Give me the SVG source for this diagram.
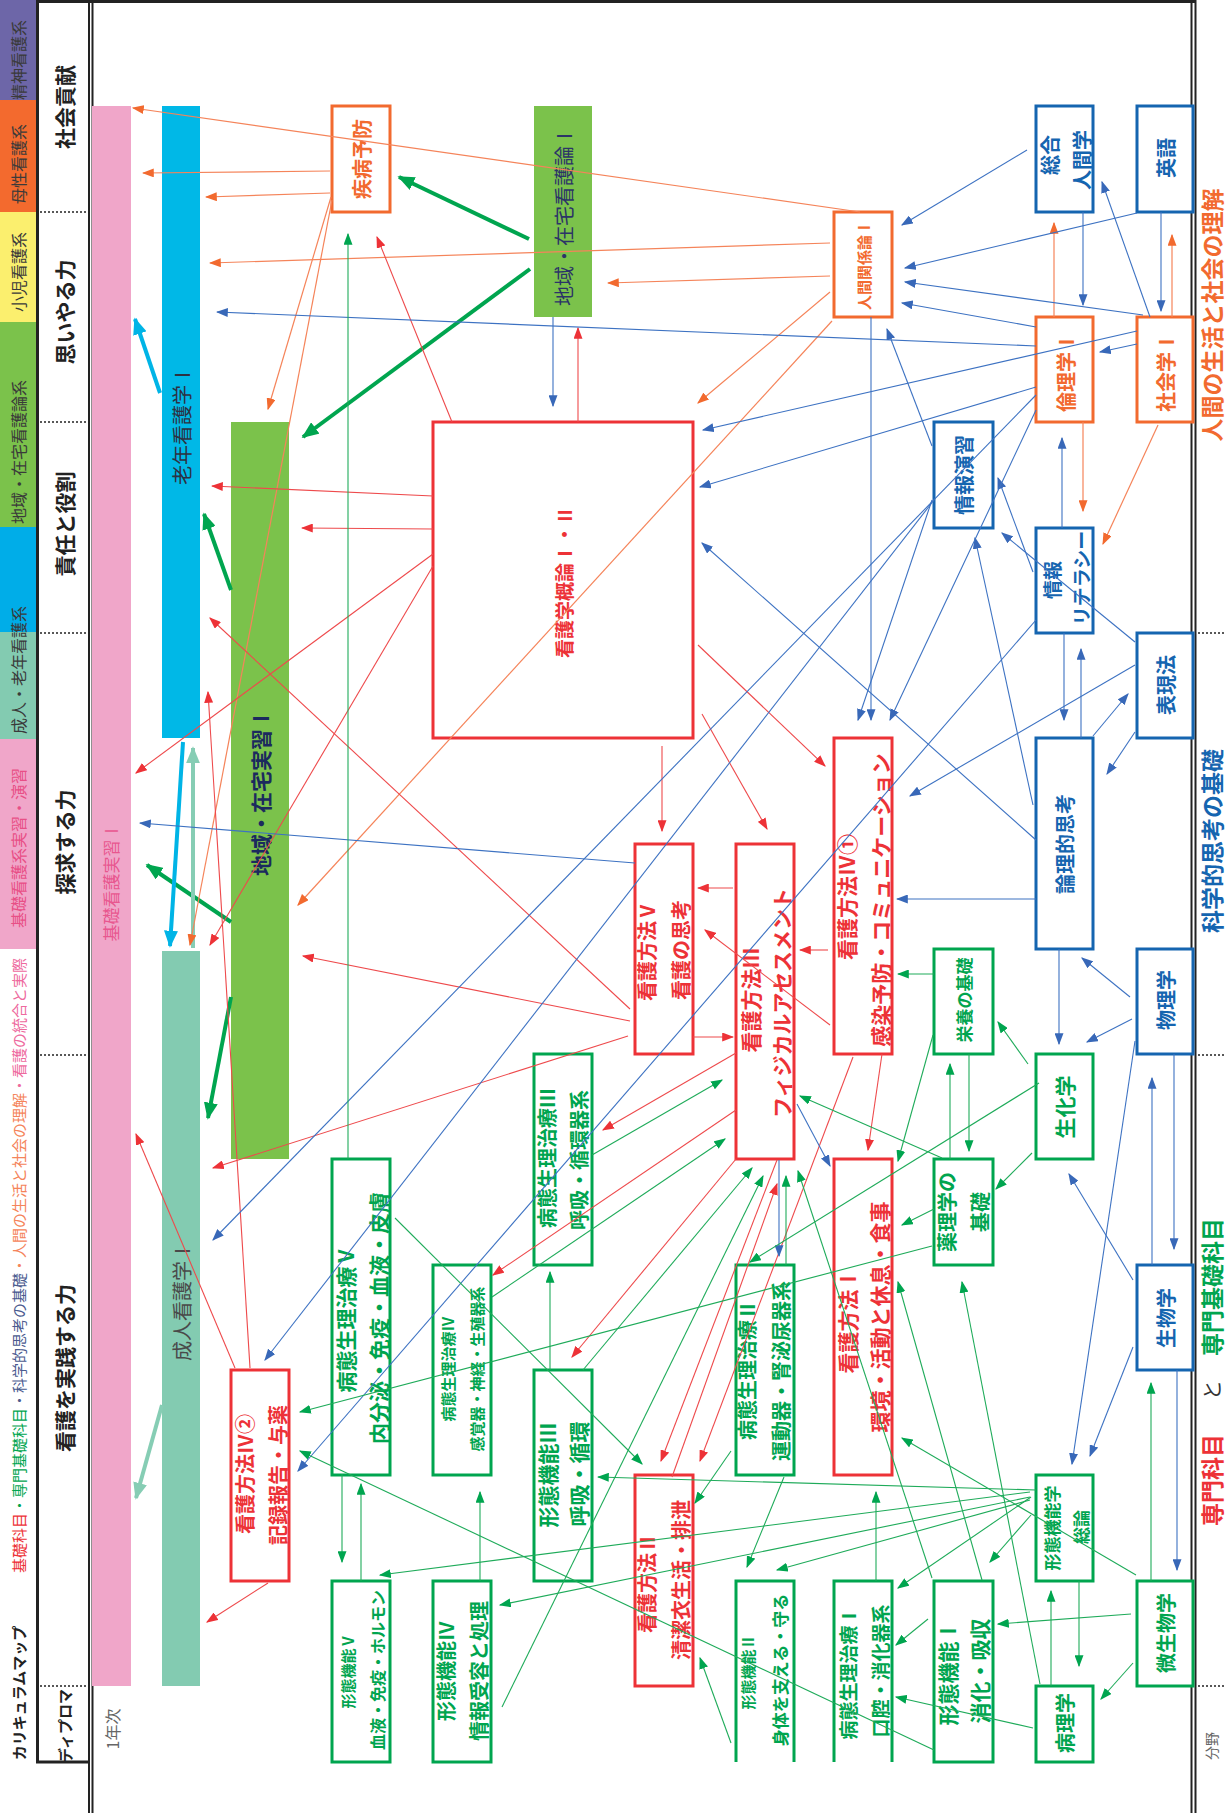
<svg xmlns="http://www.w3.org/2000/svg" width="1226" height="1813" viewBox="0 0 1226 1813">
<style>
text{font-family:"Noto Sans CJK JP","Noto Sans",sans-serif}
.v{text-anchor:middle;dominant-baseline:central}
.b{font-weight:bold}
.fr{fill:#ed3237}.fo{fill:#f26a2f}.fb{fill:#1565b0}.fg{fill:#00a54f}
.bx{fill:#fff;stroke-width:3}
.sr{stroke:#ed3237}.so{stroke:#f26a2f}.sb{stroke:#1565b0}.sg{stroke:#00a54f}
.op{fill:none;stroke-width:3}
.cr{stroke:#ee4a4c;stroke-width:1.1;fill:none;marker-end:url(#mr)}
.co{stroke:#f5845a;stroke-width:1.2;fill:none;marker-end:url(#mo)}
.cb{stroke:#3d72c2;stroke-width:1.1;fill:none;marker-end:url(#mb)}
.cg{stroke:#1fab5a;stroke-width:1.1;fill:none;marker-end:url(#mg)}
.tg{stroke:#00a54f;stroke-width:4;fill:none;marker-end:url(#Mg)}
.tc{stroke:#00b4e6;stroke-width:4;fill:none;marker-end:url(#Mc)}
.tt{stroke:#86cdb4;stroke-width:4;fill:none;marker-end:url(#Mt)}
.dot{stroke:#222;stroke-width:1.6;stroke-dasharray:2 2}
</style>
<defs>
<marker id="mr" viewBox="0 0 10 10" refX="9" refY="5" markerWidth="12" markerHeight="9" markerUnits="userSpaceOnUse" orient="auto" preserveAspectRatio="none"><path d="M0,0L10,5L0,10z" fill="#ed3237"/></marker>
<marker id="mo" viewBox="0 0 10 10" refX="9" refY="5" markerWidth="12" markerHeight="9" markerUnits="userSpaceOnUse" orient="auto" preserveAspectRatio="none"><path d="M0,0L10,5L0,10z" fill="#f26a2f"/></marker>
<marker id="mb" viewBox="0 0 10 10" refX="9" refY="5" markerWidth="12" markerHeight="9" markerUnits="userSpaceOnUse" orient="auto" preserveAspectRatio="none"><path d="M0,0L10,5L0,10z" fill="#3868b8"/></marker>
<marker id="mg" viewBox="0 0 10 10" refX="9" refY="5" markerWidth="12" markerHeight="9" markerUnits="userSpaceOnUse" orient="auto" preserveAspectRatio="none"><path d="M0,0L10,5L0,10z" fill="#00a54f"/></marker>
<marker id="Mg" viewBox="0 0 10 10" refX="9" refY="5" markerWidth="17" markerHeight="14" markerUnits="userSpaceOnUse" orient="auto" preserveAspectRatio="none"><path d="M0,0L10,5L0,10z" fill="#00a54f"/></marker>
<marker id="Mc" viewBox="0 0 10 10" refX="9" refY="5" markerWidth="17" markerHeight="14" markerUnits="userSpaceOnUse" orient="auto" preserveAspectRatio="none"><path d="M0,0L10,5L0,10z" fill="#00b4e6"/></marker>
<marker id="Mt" viewBox="0 0 10 10" refX="9" refY="5" markerWidth="17" markerHeight="14" markerUnits="userSpaceOnUse" orient="auto" preserveAspectRatio="none"><path d="M0,0L10,5L0,10z" fill="#86cdb4"/></marker>
</defs>
<rect width="1226" height="1813" fill="#fff"/>

<g id="legend-bands">
<rect x="0" y="0" width="37" height="100" fill="#6d66a8"/>
<rect x="0" y="100" width="37" height="112" fill="#f36a2e"/>
<rect x="0" y="212" width="37" height="110" fill="#fbef6e"/>
<rect x="0" y="322" width="37" height="205" fill="#7bc24b"/>
<rect x="0" y="527" width="37" height="105" fill="#00ade8"/>
<rect x="0" y="632" width="37" height="107" fill="#83cbb1"/>
<rect x="0" y="739" width="37" height="210" fill="#f0a6c9"/>
<g font-size="16" fill="#3a3a3a">
<text class="v" transform="translate(18,60) rotate(-90)">精神看護系</text>
<text class="v" transform="translate(18,164) rotate(-90)">母性看護系</text>
<text class="v" transform="translate(18,272) rotate(-90)">小児看護系</text>
<text class="v" transform="translate(18,452) rotate(-90)">地域・在宅看護論系</text>
<text class="v" transform="translate(18,670) rotate(-90)">成人・老年看護系</text>
<text class="v" transform="translate(18,848) rotate(-90)" fill="#e84f86">基礎看護系実習・演習</text>
</g>
<text transform="translate(18,1573) rotate(-90)" font-size="15" dominant-baseline="central"><tspan fill="#ed3237">基礎科目</tspan><tspan fill="#00a54f">・専門基礎科目</tspan><tspan fill="#4b5b8f">・科学的思考の基礎</tspan><tspan fill="#f5845a">・人間の生活と社会の理解</tspan><tspan fill="#ee6a9e">・看護の統合と実際</tspan></text>
<text class="v b" transform="translate(18,1693) rotate(-90)" font-size="15" fill="#222">カリキュラムマップ</text>
</g>

<g id="frame">
<rect x="36" y="0" width="1160" height="3" fill="#222"/>
<line x1="37.5" y1="0" x2="37.5" y2="1763" stroke="#222" stroke-width="3"/>
<line x1="36" y1="1762" x2="90" y2="1762" stroke="#222" stroke-width="3"/>
<line x1="89" y1="0" x2="89" y2="1813" stroke="#222" stroke-width="2"/>
<line x1="92.5" y1="0" x2="92.5" y2="1813" stroke="#222" stroke-width="2"/>
<line x1="1191.5" y1="0" x2="1191.5" y2="1813" stroke="#222" stroke-width="2"/>
<line x1="1195.5" y1="0" x2="1195.5" y2="1813" stroke="#222" stroke-width="2"/>
<line class="dot" x1="40" y1="212" x2="88" y2="212"/>
<line class="dot" x1="40" y1="422" x2="88" y2="422"/>
<line class="dot" x1="40" y1="633" x2="88" y2="633"/>
<line class="dot" x1="40" y1="1055" x2="88" y2="1055"/>
<line class="dot" x1="40" y1="1686" x2="88" y2="1686"/>
<line class="dot" x1="1198" y1="633" x2="1226" y2="633"/>
<line class="dot" x1="1198" y1="1055" x2="1226" y2="1055"/>
<line class="dot" x1="1198" y1="1686" x2="1226" y2="1686"/>
<g class="b" font-size="21" fill="#222">
<text class="v" transform="translate(64,107) rotate(-90)">社会貢献</text>
<text class="v" transform="translate(64,312) rotate(-90)">思いやる力</text>
<text class="v" transform="translate(64,524) rotate(-90)">責任と役割</text>
<text class="v" transform="translate(64,842) rotate(-90)">探求する力</text>
<text class="v" transform="translate(64,1368) rotate(-90)">看護を実践する力</text>
<text class="v" transform="translate(64,1726) rotate(-90)" font-size="15">ディプロマ</text>
</g>
<text class="v" transform="translate(112,1729) rotate(-90)" font-size="16" fill="#666">1年次</text>
<g class="b" font-size="23">
<text class="v fo" transform="translate(1211,315) rotate(-90)">人間の生活と社会の理解</text>
<text class="v fb" transform="translate(1211,841) rotate(-90)">科学的思考の基礎</text>
<text class="v fg" transform="translate(1211,1287) rotate(-90)">専門基礎科目</text>
<text class="v" transform="translate(1211,1390) rotate(-90)" fill="#333" font-weight="normal" font-size="20">と</text>
<text class="v fr" transform="translate(1211,1480) rotate(-90)">専門科目</text>
</g>
<text class="v" transform="translate(1211,1746) rotate(-90)" font-size="14" fill="#666">分野</text>
</g>

<g id="bar-kiso-jisshu">
<rect x="92" y="106" width="39" height="1580" fill="#f0a6c9"/>
<text class="v" transform="translate(110,882) rotate(-90)" font-size="17" fill="#e8578f">基礎看護実習Ⅰ</text>
</g>
<g id="bar-ronen">
<rect x="162" y="106" width="38" height="632" fill="#00b8e7"/>
<text class="v" transform="translate(181,425) rotate(-90)" font-size="20" fill="#2d3142">老年看護学Ⅰ</text>
</g>
<g id="bar-seijin">
<rect x="162" y="951" width="38" height="735" fill="#83cbb1"/>
<text class="v" transform="translate(181,1301) rotate(-90)" font-size="20" fill="#4a4a4a">成人看護学Ⅰ</text>
</g>
<g id="bar-chiiki-jisshu">
<rect x="231" y="422" width="58" height="737" fill="#7bc24b"/>
<text class="v b" transform="translate(260,792) rotate(-90)" font-size="21" fill="#1b2a5e">地域・在宅実習Ⅰ</text>
</g>

<g id="n-shippei"><rect class="bx so" x="332" y="106" width="58" height="106"/><text class="v fo b" font-size="20" transform="translate(361,159) rotate(-90)">疾病予防</text></g>
<g id="n-chiiki1"><rect x="534" y="106" width="58" height="211" fill="#7bc24b"/><text class="v" font-size="20" fill="#2b3467" transform="translate(563,216) rotate(-90)">地域・在宅看護論Ⅰ</text></g>
<g id="n-ningen"><rect class="bx so" x="834" y="212" width="58" height="105"/><text class="v fo b" font-size="15" transform="translate(863,265) rotate(-90)">人間関係論Ⅰ</text></g>
<g id="n-sogo"><rect class="bx sb" x="1036" y="106" width="57" height="106"/><g class="fb b" font-size="20"><text class="v" transform="translate(1049,155) rotate(-90)">総合</text><text class="v" transform="translate(1081,160) rotate(-90)">人間学</text></g></g>
<g id="n-eigo"><rect class="bx sb" x="1137" y="106" width="56" height="106"/><text class="v fb b" font-size="20" transform="translate(1165,158) rotate(-90)">英語</text></g>
<g id="n-rinri"><rect class="bx so" x="1036" y="317" width="57" height="105"/><text class="v fo b" font-size="20" transform="translate(1065,372) rotate(-90)">倫理学Ⅰ</text></g>
<g id="n-shakai"><rect class="bx so" x="1137" y="317" width="56" height="105"/><text class="v fo b" font-size="20" transform="translate(1165,372) rotate(-90)">社会学Ⅰ</text></g>
<g id="n-johoenshu"><rect class="bx sb" x="934" y="422" width="59" height="106"/><text class="v fb b" font-size="20" transform="translate(963,475) rotate(-90)">情報演習</text></g>
<g id="n-literacy"><rect class="bx sb" x="1036" y="528" width="57" height="105"/><g class="fb b" font-size="19"><text class="v" transform="translate(1051,580) rotate(-90)">情報</text><text class="v" transform="translate(1080,578) rotate(-90)">リテラシー</text></g></g>
<g id="n-hyogen"><rect class="bx sb" x="1137" y="633" width="56" height="105"/><text class="v fb b" font-size="20" transform="translate(1165,685) rotate(-90)">表現法</text></g>
<g id="n-ronri"><rect class="bx sb" x="1036" y="738" width="57" height="211"/><text class="v fb b" font-size="20" transform="translate(1064,844) rotate(-90)">論理的思考</text></g>
<g id="n-butsuri"><rect class="bx sb" x="1137" y="949" width="56" height="105"/><text class="v fb b" font-size="20" transform="translate(1165,1000) rotate(-90)">物理学</text></g>
<g id="n-eiyo"><rect class="bx sg" x="934" y="949" width="59" height="105"/><text class="v fg b" font-size="17" transform="translate(963,1000) rotate(-90)">栄養の基礎</text></g>
<g id="n-seika"><rect class="bx sg" x="1036" y="1054" width="57" height="105"/><text class="v fg b" font-size="21" transform="translate(1064,1107) rotate(-90)">生化学</text></g>
<g id="n-yakuri"><rect class="bx sg" x="934" y="1159" width="59" height="106"/><g class="fg b" font-size="20"><text class="v" transform="translate(946,1212) rotate(-90)">薬理学の</text><text class="v" transform="translate(979,1212) rotate(-90)">基礎</text></g></g>
<g id="n-seibutsu"><rect class="bx sb" x="1137" y="1265" width="56" height="105"/><text class="v fb b" font-size="20" transform="translate(1165,1318) rotate(-90)">生物学</text></g>
<g id="n-keitai-soron"><rect class="bx sg" x="1036" y="1475" width="57" height="106"/><g class="fg b" font-size="17"><text class="v" transform="translate(1051,1528) rotate(-90)">形態機能学</text><text class="v" transform="translate(1080,1527) rotate(-90)">総論</text></g></g>
<g id="n-biseibutsu"><rect class="bx sg" x="1137" y="1581" width="56" height="105"/><text class="v fg b" font-size="20" transform="translate(1165,1633) rotate(-90)">微生物学</text></g>
<g id="n-byori"><rect class="bx sg" x="1036" y="1686" width="57" height="76"/><text class="v fg b" font-size="20" transform="translate(1064,1723) rotate(-90)">病理学</text></g>
<g id="n-keitai1"><rect class="bx sg" x="934" y="1581" width="59" height="181"/><g class="fg b" font-size="21"><text class="v" transform="translate(947,1673) rotate(-90)">形態機能Ⅰ</text><text class="v" transform="translate(979,1671) rotate(-90)">消化・吸収</text></g></g>
<g id="n-byotai1"><path class="op sg" d="M834,1762V1581H892V1762"/><g class="fg b" font-size="19"><text class="v" transform="translate(847,1673) rotate(-90)">病態生理治療Ⅰ</text><text class="v" transform="translate(879,1671) rotate(-90)">口腔・消化器系</text></g></g>
<g id="n-keitai2"><path class="op sg" d="M736,1762V1581H794V1762"/><g class="fg b"><text class="v" font-size="15" transform="translate(747,1672) rotate(-90)">形態機能Ⅱ</text><text class="v" font-size="17" transform="translate(779,1670) rotate(-90)">身体を支える・守る</text></g></g>
<g id="n-hoho2"><rect class="bx sr" x="635" y="1475" width="58" height="211"/><g class="fr b" font-size="20"><text class="v" transform="translate(646,1583) rotate(-90)">看護方法Ⅱ</text><text class="v" transform="translate(680,1580) rotate(-90)">清潔衣生活・排泄</text></g></g>
<g id="n-keitai3"><rect class="bx sg" x="534" y="1370" width="58" height="211"/><g class="fg b" font-size="21"><text class="v" transform="translate(547,1475) rotate(-90)">形態機能Ⅲ</text><text class="v" transform="translate(578,1474) rotate(-90)">呼吸・循環</text></g></g>
<g id="n-keitai4"><rect class="bx sg" x="433" y="1581" width="58" height="181"/><g class="fg b" font-size="20"><text class="v" transform="translate(445,1671) rotate(-90)">形態機能Ⅳ</text><text class="v" transform="translate(478,1671) rotate(-90)">情報受容と処理</text></g></g>
<g id="n-keitai5"><rect class="bx sg" x="332" y="1581" width="58" height="181"/><g class="fg b"><text class="v" font-size="15" transform="translate(347,1671) rotate(-90)">形態機能Ⅴ</text><text class="v" font-size="16" transform="translate(377,1670) rotate(-90)">血液・免疫・ホルモン</text></g></g>
<g id="n-hoho4-2"><rect class="bx sr" x="231" y="1370" width="58" height="211"/><g class="fr b" font-size="20"><text class="v" transform="translate(244,1474) rotate(-90)">看護方法Ⅳ②</text><text class="v" transform="translate(277,1475) rotate(-90)">記録報告・与薬</text></g></g>
<g id="n-byotai5"><rect class="bx sg" x="332" y="1159" width="58" height="316"/><g class="fg b" font-size="21"><text class="v" transform="translate(345,1319) rotate(-90)">病態生理治療Ⅴ</text><text class="v" transform="translate(378,1318) rotate(-90)">内分泌・免疫・血液・皮膚</text></g></g>
<g id="n-byotai4"><rect class="bx sg" x="433" y="1265" width="58" height="210"/><g class="fg b" font-size="15"><text class="v" transform="translate(447,1369) rotate(-90)">病態生理治療Ⅳ</text><text class="v" transform="translate(476,1369) rotate(-90)">感覚器・神経・生殖器系</text></g></g>
<g id="n-byotai3"><rect class="bx sg" x="534" y="1054" width="58" height="211"/><g class="fg b" font-size="20"><text class="v" transform="translate(546,1158) rotate(-90)">病態生理治療Ⅲ</text><text class="v" transform="translate(578,1160) rotate(-90)">呼吸・循環器系</text></g></g>
<g id="n-byotai2"><rect class="bx sg" x="736" y="1265" width="58" height="210"/><g class="fg b" font-size="20"><text class="v" transform="translate(746,1370) rotate(-90)">病態生理治療Ⅱ</text><text class="v" transform="translate(780,1371) rotate(-90)">運動器・腎泌尿器系</text></g></g>
<g id="n-hoho1"><rect class="bx sr" x="834" y="1159" width="58" height="316"/><g class="fr b" font-size="21"><text class="v" transform="translate(847,1321) rotate(-90)">看護方法Ⅰ</text><text class="v" transform="translate(879,1317) rotate(-90)">環境・活動と休息・食事</text></g></g>
<g id="n-hoho3"><rect class="bx sr" x="736" y="844" width="58" height="315"/><g class="fr b" font-size="21"><text class="v" transform="translate(750,1000) rotate(-90)">看護方法Ⅲ</text><text class="v" transform="translate(781,1003) rotate(-90)">フィジカルアセスメント</text></g></g>
<g id="n-hoho4-1"><rect class="bx sr" x="834" y="738" width="58" height="316"/><g class="fr b" font-size="21"><text class="v" transform="translate(846,897) rotate(-90)">看護方法Ⅳ①</text><text class="v" transform="translate(880,900) rotate(-90)">感染予防・コミュニケーション</text></g></g>
<g id="n-hoho5"><rect class="bx sr" x="635" y="844" width="58" height="210"/><g class="fr b" font-size="20"><text class="v" transform="translate(646,951) rotate(-90)">看護方法Ⅴ</text><text class="v" transform="translate(680,950) rotate(-90)">看護の思考</text></g></g>
<g id="n-gairon"><rect class="bx sr" x="433" y="422" width="260" height="316"/><text class="v fr b" font-size="19" transform="translate(563,582) rotate(-90)">看護学概論Ⅰ・Ⅱ</text></g>

<g id="connectors">
<path class="tg" d="M529,239L399,177"/>
<path class="tg" d="M530,269L303,437"/>
<path class="tc" d="M160,393L135,319"/>
<path class="tg" d="M231,590L204,514"/>
<path class="tg" d="M231,922L147,865"/>
<path class="tg" d="M231,997L208,1118"/>
<path class="tc" d="M183,742L170,946"/>
<path class="tt" d="M193,948L193,748"/>
<path class="tt" d="M162,1405L136,1498"/>

<path class="co" d="M860,212L133,108"/>
<path class="co" d="M330,171L143,173"/>
<path class="co" d="M330,193L206,197"/>
<path class="co" d="M830,243L210,263"/>
<path class="co" d="M830,276L608,283"/>
<path class="co" d="M331,197L268,409"/>
<path class="co" d="M332,200L190,945"/>
<path class="co" d="M830,292L698,403"/>
<path class="co" d="M832,321L298,905"/>
<path class="co" d="M1054,317L1054,223"/>
<path class="co" d="M1172,317L1172,235"/>
<path class="co" d="M1083,422L1083,511"/>
<path class="co" d="M1158,425L1103,544"/>

<path class="cr" d="M452,422L377,237"/>
<path class="cr" d="M578,422L578,328"/>
<path class="cr" d="M433,496L212,486"/>
<path class="cr" d="M433,529L302,528"/>
<path class="cr" d="M433,554L136,773"/>
<path class="cr" d="M433,566L210,945"/>
<path class="cr" d="M662,746L662,831"/>
<path class="cr" d="M702,714L767,829"/>
<path class="cr" d="M698,645L825,766"/>
<path class="cr" d="M733,888L698,888"/>
<path class="cr" d="M828,950L800,950"/>
<path class="cr" d="M830,1025L705,930"/>
<path class="cr" d="M693,1037L733,1037"/>
<path class="cr" d="M630,1021L303,956"/>
<path class="cr" d="M630,1009L210,618"/>
<path class="cr" d="M628,1036L213,1168"/>
<path class="cr" d="M736,1053L603,1130"/>
<path class="cr" d="M736,1110L493,1275"/>
<path class="cr" d="M736,1159L572,1357"/>
<path class="cr" d="M777,1160L661,1461"/>
<path class="cr" d="M853,1057L700,1461"/>
<path class="cr" d="M672,1477L777,1184"/>
<path class="cr" d="M882,1054L868,1150"/>
<path class="cr" d="M250,1368L208,692"/>
<path class="cr" d="M235,1368L136,1134"/>
<path class="cr" d="M268,1583L207,1622"/>

<path class="cb" d="M553,317L553,406"/>
<path class="cb" d="M1036,346L217,312"/>
<path class="cb" d="M1137,331L703,430"/>
<path class="cb" d="M1036,387L700,487"/>
<path class="cb" d="M1036,840L702,543"/>
<path class="cb" d="M1027,150L902,225"/>
<path class="cb" d="M1137,213L905,268"/>
<path class="cb" d="M1143,315L905,282"/>
<path class="cb" d="M1036,327L902,303"/>
<path class="cb" d="M932,446L887,329"/>
<path class="cb" d="M1083,212L1083,305"/>
<path class="cb" d="M1150,317L1102,182"/>
<path class="cb" d="M1161,212L1161,311"/>
<path class="cb" d="M1137,344L1100,352"/>
<path class="cb" d="M1062,528L1062,438"/>
<path class="cb" d="M1033,572L998,478"/>
<path class="cb" d="M1135,642L1002,533"/>
<path class="cb" d="M1033,805L975,538"/>
<path class="cb" d="M871,317L871,720"/>
<path class="cb" d="M932,500L858,720"/>
<path class="cb" d="M1036,410L890,720"/>
<path class="cb" d="M1036,395L213,1240"/>
<path class="cb" d="M934,500L265,1360"/>
<path class="cb" d="M1036,620L298,1471"/>
<path class="cb" d="M1036,899L897,899"/>
<path class="cb" d="M1135,665L910,796"/>
<path class="cb" d="M635,863L140,823"/>
<path class="cb" d="M1064,633L1064,720"/>
<path class="cb" d="M1081,738L1081,649"/>
<path class="cb" d="M1093,736L1128,694"/>
<path class="cb" d="M1135,732L1107,774"/>
<path class="cb" d="M1130,997L1082,958"/>
<path class="cb" d="M1059,949L1059,1044"/>
<path class="cb" d="M1132,1019L1087,1042"/>
<path class="cb" d="M1174,1054L1174,1249"/>
<path class="cb" d="M1152,1265L1152,1078"/>
<path class="cb" d="M1133,1347L1090,1456"/>
<path class="cb" d="M1135,1041L1072,1464"/>
<path class="cb" d="M1133,1280L1069,1174"/>
<path class="cb" d="M1177,1370L1177,1570"/>
<path class="cb" d="M797,1104L830,1166"/>
<path class="cb" d="M779,1160L779,1256"/>

<path class="cg" d="M348,1159L348,234"/>
<path class="cg" d="M934,974L898,974"/>
<path class="cg" d="M1028,1064L998,1022"/>
<path class="cg" d="M1032,1153L996,1189"/>
<path class="cg" d="M950,1159L950,1064"/>
<path class="cg" d="M969,1054L969,1151"/>
<path class="cg" d="M933,1035L898,1161"/>
<path class="cg" d="M934,1209L902,1225"/>
<path class="cg" d="M1039,1083L750,1262"/>
<path class="cg" d="M942,1158L800,1096"/>
<path class="cg" d="M932,1246L300,1412"/>
<path class="cg" d="M982,1580L898,1282"/>
<path class="cg" d="M1040,1684L962,1282"/>
<path class="cg" d="M1136,1575L902,1438"/>
<path class="cg" d="M876,1581L876,1492"/>
<path class="cg" d="M932,1578L798,1171"/>
<path class="cg" d="M786,1265L786,1176"/>
<path class="cg" d="M731,1743L700,1658"/>
<path class="cg" d="M731,1451L695,1503"/>
<path class="cg" d="M784,1477L747,1567"/>
<path class="cg" d="M1030,1500L777,1570"/>
<path class="cg" d="M1031,1497L898,1588"/>
<path class="cg" d="M928,1619L896,1645"/>
<path class="cg" d="M1031,1515L990,1562"/>
<path class="cg" d="M1131,1614L998,1624"/>
<path class="cg" d="M1033,1728L896,1697"/>
<path class="cg" d="M1051,1686L1051,1591"/>
<path class="cg" d="M1079,1581L1079,1666"/>
<path class="cg" d="M1133,1663L1101,1699"/>
<path class="cg" d="M1151,1581L1151,1383"/>
<path class="cg" d="M1036,1490L598,1477"/>
<path class="cg" d="M1030,1492L380,1575"/>
<path class="cg" d="M1030,1497L500,1605"/>
<path class="cg" d="M934,1750L300,1451"/>
<path class="cg" d="M342,1474L342,1562"/>
<path class="cg" d="M361,1581L361,1484"/>
<path class="cg" d="M480,1581L480,1492"/>
<path class="cg" d="M550,1370L550,1272"/>
<path class="cg" d="M395,1218L642,1464"/>
<path class="cg" d="M592,1155L722,1080"/>
<path class="cg" d="M492,1297L725,1139"/>
<path class="cg" d="M583,1370L752,1168"/>
<path class="cg" d="M502,1707L763,1176"/>
</g>
</svg>
